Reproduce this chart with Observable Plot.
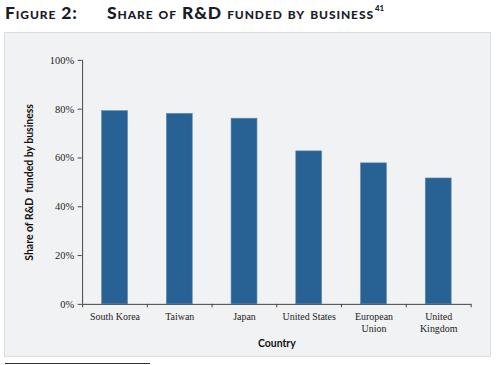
<!DOCTYPE html>
<html><head><meta charset="utf-8">
<script src="https://cdn.jsdelivr.net/npm/d3@7"></script>
<script src="https://cdn.jsdelivr.net/npm/@observablehq/plot@0.6"></script>
<style>
body{margin:0;background:#fff;width:503px;height:365px;overflow:hidden;position:relative;font-family:"Liberation Serif",serif;}
#title{position:absolute;left:5px;top:2px;font-family:Lato,sans-serif;font-weight:900;font-variant:small-caps;font-size:17.5px;color:#1c1c28;white-space:nowrap;letter-spacing:0.9px}
#title .b{position:absolute;left:102px;top:0}
#title sup{font-size:8px;font-variant:normal;letter-spacing:0;vertical-align:baseline;position:relative;top:-8px;margin-left:1px}
#panel{position:absolute;left:4px;top:32px;width:487px;height:325px;background:#f1f2f4;border:1px solid #dcdde0;box-sizing:border-box}
#foot{position:absolute;left:5px;top:363px;width:145px;height:1px;background:#333}
</style></head>
<body>
<div id="title"><span>Figure 2:</span><span class="b">Share of R&amp;D funded by business<sup>41</sup></span></div>
<div id="panel"></div>
<div id="foot"></div>
<script>
const countries = ["South Korea","Taiwan","Japan","United States","European Union","United Kingdom"];
const tickLabels = ["South Korea","Taiwan","Japan","United States","European\nUnion","United\nKingdom"];
const shares = [0.792,0.781,0.761,0.627,0.578,0.516];
const yTicks = [0,0.2,0.4,0.6,0.8,1.0];

const data = countries.map((c,i)=>({country:c, share:shares[i]}));
const W = 487, H = 325, mL = 77, mR = 19;
const step = (W - mL - mR) / countries.length;
const serif = '"Liberation Serif", "DejaVu Serif", serif';

const chart = Plot.plot({
  width: W, height: H,
  marginLeft: mL, marginRight: mR, marginTop: 27, marginBottom: 53,
  style: {background: "transparent", fontFamily: serif, fontSize: "10px", color: "#222"},
  x: {domain: countries, paddingInner: 0.6, paddingOuter: 0.3, label: null},
  y: {domain: [0,1], label: null},
  marks: [
    Plot.barY(data, {x: "country", y: "share", fill: "#286193", stroke: "#5e88b0", strokeWidth: 0.6}),
    Plot.axisY({ticks: yTicks, tickFormat: d3.format(".0%"), tickSize: 4, tickPadding: 4, fontSize: 10.5, fontFamily: serif, stroke: "#444", fill: "#222"}),
    Plot.axisX({tickSize: 0, tickPadding: 7, fontSize: 10, fontFamily: serif, fill: "#222", tickFormat: d => tickLabels[countries.indexOf(d)], lineHeight: 1.2}),
    Plot.ruleX(countries, {x: d=>d, dx: -step/2, y1: 0, y2: -0.014, stroke: "#444"}),
    Plot.ruleX(countries.slice(-1), {x: d=>d, dx: step/2, y1: 0, y2: -0.014, stroke: "#444"}),
    Plot.ruleY([0], {stroke: "#444"}),
    Plot.ruleX(countries.slice(0,1), {x: d=>d, dx: -step/2, y1: 0, y2: 1, stroke: "#444"}),
    Plot.text(["Country"], {frameAnchor: "bottom", lineAnchor: "middle", dy: 39, fontFamily: "Lato, sans-serif", fontWeight: "bold", fontSize: 10.5, fill: "#111"}),
    Plot.text(["Share of R&D  funded by business"], {frameAnchor: "left", textAnchor: "middle", lineAnchor: "middle", dx: -53, rotate: -90, fontFamily: "Lato, sans-serif", fontWeight: "bold", fontSize: 10.5, fill: "#111"})
  ]
});
document.getElementById("panel").appendChild(chart);
</script>
</body></html>
